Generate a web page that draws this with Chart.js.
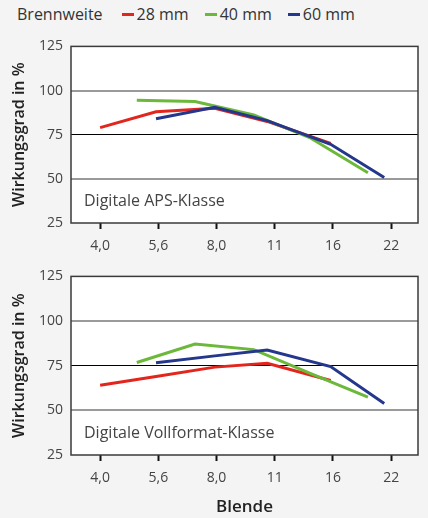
<!DOCTYPE html>
<html>
<head>
<meta charset="utf-8">
<script src="https://cdn.jsdelivr.net/npm/chart.js@4.4.1/dist/chart.umd.min.js"></script>
<style>
  body { margin: 0; background: #f4f4f4; font-family: "Open Sans", sans-serif; }
  #wrap { position: relative; width: 428px; height: 518px; overflow: hidden; }
  #legende { position: absolute; left: 17px; top: 3px; display: flex; align-items: center; font-size: 16px; color: #333; }
  #legende .titel { margin-right: 19px; }
  #legende .item { display: flex; align-items: center; margin-right: 16px; }
  #legende .strich { width: 12px; height: 3px; margin-right: 3px; }
  canvas { position: absolute; left: 0; }
</style>
</head>
<body>
<div id="wrap">
  <div id="legende"><span class="titel">Brennweite</span></div>
  <canvas id="apsChart" width="428" height="230" style="top:30px"></canvas>
  <canvas id="vollChart" width="428" height="258" style="top:260px"></canvas>
</div>
<script>
// Blende-Achse: Ticks bei ganzen Stufen 0..5
const blendeLabels = ["4,0", "5,6", "8,0", "11", "16", "22"];

const serienNamen = ["28 mm", "40 mm", "60 mm"];
const serienFarben = ["#e3261d", "#6cb83a", "#25378c"];

// Position in Blendenstufen (0 = 4,0) und Wirkungsgrad in %
const aps28Stufe = [0, 0.96, 1.97, 2.87, 3.96];
const aps28Wert = [79, 88, 90, 82.5, 70];
const aps40Stufe = [0.63, 1.63, 2.64, 3.62, 4.6];
const aps40Wert = [94.5, 93.8, 86.2, 73, 53.5];
const aps60Stufe = [0.96, 1.97, 2.87, 3.96, 4.88];
const aps60Wert = [84, 90.5, 83, 69.6, 50.8];

const voll28Stufe = [0, 0.96, 1.97, 2.87, 3.96];
const voll28Wert = [64, 69, 74.2, 76.3, 66.7];
const voll40Stufe = [0.63, 1.63, 2.64, 3.62, 4.6];
const voll40Wert = [76.8, 87.1, 84, 70.5, 57.4];
const voll60Stufe = [0.96, 1.97, 2.87, 3.96, 4.88];
const voll60Wert = [76.6, 80.5, 83.8, 74.5, 53.8];

const yTicks = [25, 50, 75, 100, 125];

// Legende
const legende = document.getElementById("legende");
serienNamen.forEach((name, i) => {
    const item = document.createElement("span");
    item.className = "item";
    item.innerHTML = `<span class="strich" style="background:${serienFarben[i]}"></span>${name}`;
    legende.appendChild(item);
});

function punkte(stufen, werte) {
    return stufen.map((s, i) => ({ x: s, y: werte[i] }));
}

const rahmenPlugin = {
    id: "rahmen",
    beforeDraw(chart) {
        const a = chart.chartArea;
        const ctx = chart.ctx;
        ctx.save();
        ctx.fillStyle = "#ffffff";
        ctx.fillRect(a.left, a.top, a.right - a.left, a.bottom - a.top);
        ctx.restore();
    },
    afterDraw(chart, args, opts) {
        const a = chart.chartArea;
        const ctx = chart.ctx;
        ctx.save();
        ctx.strokeStyle = "#3a3a3a";
        ctx.lineWidth = 1.5;
        ctx.strokeRect(a.left, a.top, a.right - a.left, a.bottom - a.top);
        ctx.fillStyle = "#444";
        ctx.font = "16px 'Open Sans'";
        ctx.textBaseline = "middle";
        ctx.fillText(opts.text, a.left + 13, a.bottom - 21.5);
        ctx.restore();
    }
};

function panel(id, serien, titel, mitXTitel, padTop, xHoehe) {
    const datasets = serien.map((d, i) => ({
        label: serienNamen[i],
        data: d,
        borderColor: serienFarben[i],
        backgroundColor: serienFarben[i],
        borderWidth: 3,
        pointRadius: 0,
        tension: 0,
        order: [2, 1, 0][i]
    }));

    return new Chart(document.getElementById(id), {
        type: "line",
        data: { datasets },
        plugins: [rahmenPlugin],
        options: {
            responsive: false,
            animation: false,
            layout: { padding: { top: padTop, right: 10, left: 0, bottom: 0 } },
            plugins: {
                legend: { display: false },
                tooltip: { enabled: false },
                rahmen: { text: titel }
            },
            scales: {
                x: {
                    type: "linear",
                    min: -0.5,
                    max: 5.46,
                    afterBuildTicks: s => { s.ticks = blendeLabels.map((_, i) => ({ value: i })); },
                    afterFit: s => { s.height = xHoehe; },
                    border: { display: false },
                    grid: { drawOnChartArea: false, drawTicks: true, tickLength: 6, tickWidth: 2, tickColor: "#111" },
                    ticks: {
                        padding: 9,
                        color: "#444",
                        font: { family: "Open Sans", size: 14 },
                        maxRotation: 0,
                        callback: v => blendeLabels[v]
                    },
                    title: {
                        display: mitXTitel,
                        text: "Blende",
                        color: "#222",
                        font: { family: "Open Sans", size: 17, weight: "600" },
                        padding: { top: 0, bottom: 1 }
                    }
                },
                y: {
                    min: 25,
                    max: 125,
                    afterBuildTicks: s => { s.ticks = yTicks.map(v => ({ value: v })); },
                    afterFit: s => { s.width = 71; },
                    border: { display: false },
                    grid: {
                        drawTicks: false,
                        color: c => (c.tick.value === 75 ? "#000" : (c.tick.value === 25 || c.tick.value === 125 ? "rgba(0,0,0,0)" : "#9a9a9a")),
                        lineWidth: c => (c.tick.value === 75 ? 1 : 2)
                    },
                    ticks: {
                        padding: 8,
                        color: "#444",
                        font: { family: "Open Sans", size: 14 }
                    },
                    title: {
                        display: true,
                        text: "Wirkungsgrad in %",
                        color: "#222",
                        font: { family: "Open Sans", size: 16, weight: "600" },
                        padding: { top: 10, bottom: 0 }
                    }
                }
            }
        }
    });
}

panel("apsChart",
    [punkte(aps28Stufe, aps28Wert), punkte(aps40Stufe, aps40Wert), punkte(aps60Stufe, aps60Wert)],
    "Digitale APS-Klasse", false, 7, 37);

panel("vollChart",
    [punkte(voll28Stufe, voll28Wert), punkte(voll40Stufe, voll40Wert), punkte(voll60Stufe, voll60Wert)],
    "Digitale Vollformat-Klasse", true, 10, 63);
</script>
</body>
</html>
